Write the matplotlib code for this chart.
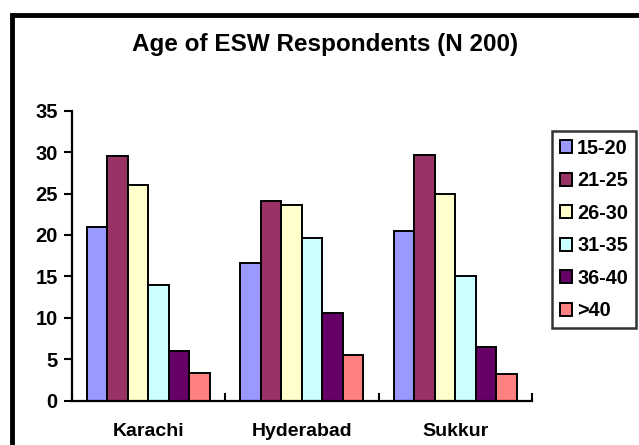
import matplotlib
matplotlib.use("Agg")
import matplotlib.pyplot as plt
import numpy as np
from matplotlib.patches import Rectangle

cities = ["Karachi", "Hyderabad", "Sukkur"]
age_groups = ["15-20", "21-25", "26-30", "31-35", "36-40", ">40"]
v_15_20 = [21.0, 16.6, 20.5]
v_21_25 = [29.5, 24.1, 29.7]
v_26_30 = [26.0, 23.6, 24.9]
v_31_35 = [14.0, 19.6, 15.1]
v_36_40 = [6.0, 10.6, 6.5]
v_gt40 = [3.4, 5.5, 3.2]
series = [v_15_20, v_21_25, v_26_30, v_31_35, v_36_40, v_gt40]
colors = ["#9999FF", "#993366", "#FFFFCC", "#CCFFFF", "#660066", "#FF8080"]
yticks = [0, 5, 10, 15, 20, 25, 30, 35]

plt.rcParams['font.family'] = ['Liberation Sans', 'DejaVu Sans']
plt.rcParams['font.weight'] = 'bold'

fig = plt.figure(figsize=(6.39, 4.45), dpi=100)
ax = fig.add_axes([0.1122, 0.0996, 0.8326 - 0.1122, 0.7512 - 0.0996])

n = len(series)
bw = 0.8 / n
x = np.arange(len(cities)) + 0.5
for i, (vals, c, lab) in enumerate(zip(series, colors, age_groups)):
    ax.bar(x - 0.4 + bw * (i + 0.5), vals, width=bw, color=c, edgecolor='black',
           linewidth=1.4, label=lab)

ax.set_xlim(0, 3)
ax.set_ylim(0, 35)
ax.set_yticks(yticks)
ax.set_yticklabels([str(t) for t in yticks], fontsize=14.5, fontweight='bold')
ax.set_xticks([0, 1, 2, 3])
ax.set_xticklabels([])
ax.set_xticks(x, minor=True)
ax.set_xticklabels(cities, minor=True, fontsize=14, fontweight='bold')
ax.tick_params(axis='x', which='major', direction='in', length=6, width=1.5)
ax.tick_params(axis='x', which='minor', length=0, pad=16)
ax.tick_params(axis='y', direction='out', length=6, width=1.5, pad=4)
for s in ['top', 'right']:
    ax.spines[s].set_visible(False)
for s in ['left', 'bottom']:
    ax.spines[s].set_linewidth(1.6)

fig.text(0.509, 0.899, "Age of ESW Respondents (N 200)", ha='center', va='center',
         fontsize=17.5, fontweight='bold')

leg = fig.legend(loc='upper left', bbox_to_anchor=(551.7 / 639, 1 - 130.7 / 445),
                 fontsize=14.3, frameon=True, fancybox=False, edgecolor='black',
                 handlelength=0.63, handleheight=0.63, handletextpad=0.25,
                 labelspacing=0.68, borderpad=0.4, borderaxespad=0)
leg.get_frame().set_linewidth(1.8)
for t in leg.get_texts():
    t.set_fontweight('bold')

fig.patches.append(Rectangle((12 / 639, -0.1), 1.2, 1 - 14.5 / 445 + 0.1,
                             transform=fig.transFigure, fill=False,
                             edgecolor='black', linewidth=3.5))

fig.savefig("out.png", dpi=100)
